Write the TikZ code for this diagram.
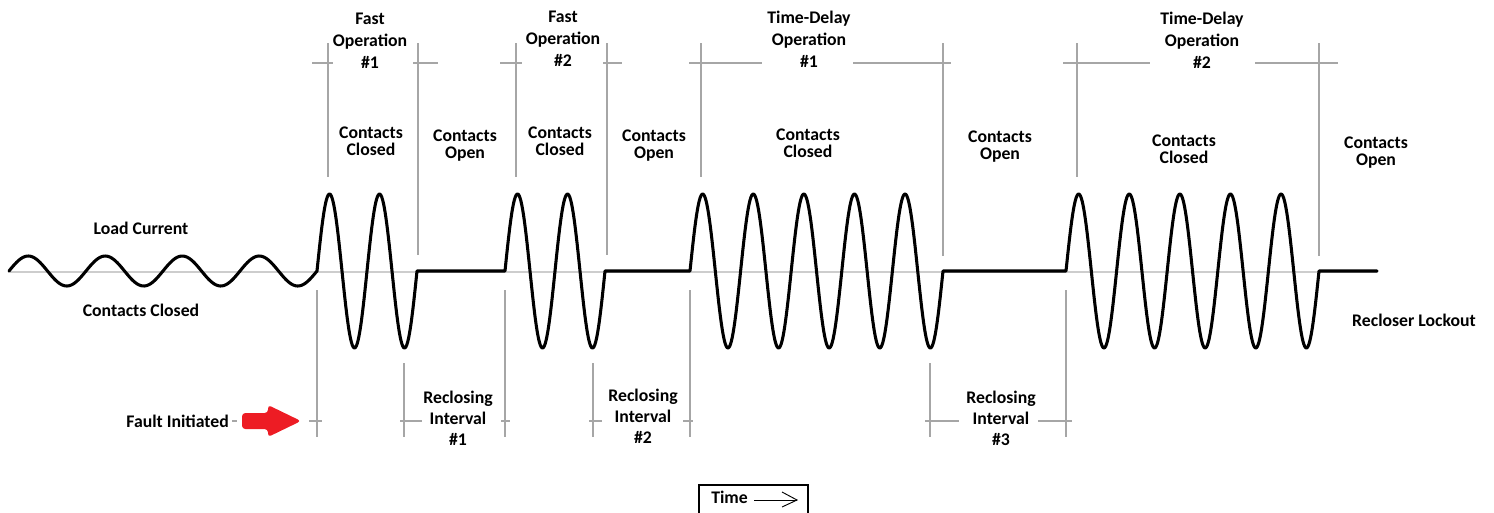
\documentclass[tikz,border=0pt]{standalone}
\usepackage{fontspec}
\setmainfont{Carlito}
\definecolor{faultred}{RGB}{237,28,36}
\definecolor{dimgray}{RGB}{166,166,166}
\definecolor{axisgray}{RGB}{205,205,205}
\begin{document}
\begin{tikzpicture}[x=0.75pt,y=-0.75pt,
  lbl/.style={font=\bfseries\fontsize{13.3}{13.1}\selectfont, align=center, inner sep=0pt, text=black},
  oplbl/.style={lbl, font=\bfseries\fontsize{13.3}{16.5}\selectfont},
  rilbl/.style={lbl, font=\bfseries\fontsize{13.3}{15.8}\selectfont},
  dimline/.style={draw=dimgray, line width=0.8pt},
  axisline/.style={draw=axisgray, line width=1.1pt},
  wave/.style={draw=black, line width=2.3pt, line join=round, line cap=round},
  flat/.style={draw=black, line width=2.3pt}]
\useasboundingbox (0,0) rectangle (1494,512);

% axis
\coordinate (axL) at (8,272);
\coordinate (axR) at (1378,272);
\draw[axisline] (axL) -- (axR);

% upper vertical dimension lines
\foreach \n/\x/\b in {ua/328/177, ub/418/255, uc/516/177, ud/607/255, ue/701/177, uf/943/256, ug/1077/177, uh/1319/256}{
  \coordinate (\n t) at (\x,43);
  \coordinate (\n b) at (\x,\b);
  \draw[dimline] (\n t) -- (\n b);
}
% upper horizontal dimension pieces
\foreach \n/\a/\b in {ha/312/333, hb/413/438, hc/500/522, hd/603/622, he/689/762, hf/853/951, hg/1063/1150, hh/1255/1338}{
  \coordinate (\n l) at (\a,63);
  \coordinate (\n r) at (\b,63);
  \draw[dimline] (\n l) -- (\n r);
}

% lower vertical dimension lines
\foreach \n/\x/\t in {la/317/290, lb/404/363, lc/505/290, ld/593/363, le/690/290, lf/930/363, lg/1066/290}{
  \coordinate (\n t) at (\x,\t);
  \coordinate (\n b) at (\x,437);
  \draw[dimline] (\n t) -- (\n b);
}
% lower horizontal dimension pieces
\foreach \n/\a/\b in {ga/232/237, gb/309/322, gc/400/422, gd/501/510, ge/589/602, gf/683/693, gg/925/959, gh/1038/1072}{
  \coordinate (\n l) at (\a,421);
  \coordinate (\n r) at (\b,421);
  \draw[dimline] (\n l) -- (\n r);
}

% waveform
\draw[wave] plot[domain=9:317,samples=160] (\x,{271-15*sin(360*((\x-9)/77))})
  -- plot[domain=317:417,samples=120] (\x,{271-77*sin(360*((\x-317)/50))})
  -- (505,271)
  -- plot[domain=505:605,samples=120] (\x,{271-77*sin(360*((\x-505)/50))})
  -- (690,271)
  -- plot[domain=690:943,samples=300] (\x,{271-77*sin(360*((\x-690)/50.6))})
  -- (1066,271)
  -- plot[domain=1066:1319,samples=300] (\x,{271-77*sin(360*((\x-1066)/50.6))})
  -- (1377,271);

% top labels
\node[oplbl] (fo1) at (370,40.5) {Fast\\Operation\\\#1};
\node[oplbl] (fo2) at (563,39) {Fast\\Operation\\\#2};
\node[oplbl] (td1) at (809,39) {Time-Delay\\Operation\\\#1};
\node[oplbl] (td2) at (1202,40.5) {Time-Delay\\Operation\\\#2};

% contacts labels
\node[lbl] (cc1) at (371,141.5) {Contacts\\Closed};
\node[lbl] (co1) at (465,145.5) {Contacts\\Open};
\node[lbl] (cc2) at (560,141.5) {Contacts\\Closed};
\node[lbl] (co2) at (654,145.5) {Contacts\\Open};
\node[lbl] (cc3) at (808,143.5) {Contacts\\Closed};
\node[lbl] (co3) at (1000,146.5) {Contacts\\Open};
\node[lbl] (cc4) at (1184,149) {Contacts\\Closed};
\node[lbl] (co4) at (1376,152.5) {Contacts\\Open};

% reclosing labels
\node[rilbl] (ri1) at (458,418) {Reclosing\\Interval\\\#1};
\node[rilbl] (ri2) at (643,416) {Reclosing\\Interval\\\#2};
\node[rilbl] (ri3) at (1001,418) {Reclosing\\Interval\\\#3};

% side labels
\node[lbl] (load) at (141,228) {Load Current};
\node[lbl] (cclosed) at (141,310) {Contacts Closed};
\node[lbl] (lockout) at (1414,320) {Recloser Lockout};
\node[lbl, anchor=east] (fault) at (229,421) {Fault Initiated};

% fault arrow
\fill[faultred, rounded corners=2.5pt] (242,413) -- (268,413) -- (268,405) -- (301,421)
  -- (268,437) -- (268,429) -- (242,429) -- cycle;

% time box
\coordinate (tbl) at (699,485);
\coordinate (tbr) at (808,520);
\draw[black, line width=0.8pt] (tbl) rectangle (tbr);
\node[lbl, anchor=west] (time) at (711,497) {Time};
\coordinate (ta) at (754,500);
\coordinate (tb) at (797,500);
\coordinate (tc) at (782,492);
\coordinate (td) at (782,507);
\draw[black, line width=0.7pt] (ta) -- (tb);
\draw[black, line width=0.7pt] (tc) -- (tb) -- (td);
\end{tikzpicture}
\end{document}
